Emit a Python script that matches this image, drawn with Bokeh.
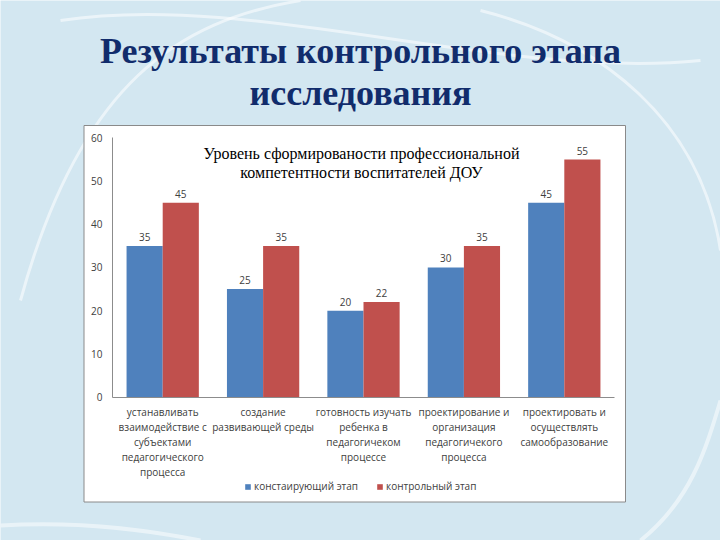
from bokeh.plotting import figure
from bokeh.models import Range1d, LinearAxis, FixedTicker, Legend, LegendItem
from bokeh.embed import file_html
from bokeh.resources import INLINE
from bokeh.core.properties import value

# ---------------- data ----------------
slide_title = ["Результаты контрольного этапа", "исследования"]
chart_title = ["Уровень сформированости профессиональной",
               "компетентности воспитателей ДОУ"]
categories = [
    "устанавливать\nвзаимодействие с\nсубъектами\nпедагогического\nпроцесса",
    "создание\nразвивающей среды",
    "готовность изучать\nребенка в\nпедагогичеком\nпроцессе",
    "проектирование и\nорганизация\nпедагогичекого\nпроцесса",
    "проектировать и\nосуществлять\nсамообразование",
]
series_names = ["констаирующий этап", "контрольный этап"]
stage_ascertaining = [35, 25, 20, 30, 45]
stage_control = [45, 35, 22, 35, 55]
y_ticks = [0, 10, 20, 30, 40, 50, 60]

# ---------------- layout (page pixels) ----------------
W, H, OFF = 720, 540, 0
X0, CAT_W = 112.0, 100.4        # page x of category axis start, px per category
Y0, PPU = 396.5, 4.317          # page y of value 0, px per unit

def px(xp):
    return (xp - X0) / CAT_W

def py(yp):
    return (Y0 - yp) / PPU

BLUE, RED = "#4F81BD", "#C0504D"
GRAY_TXT = "#404040"
FONT = value("Open Sans")

p = figure(width=W, height=H, output_backend="svg", toolbar_location=None,
           x_range=Range1d(px(OFF), px(OFF + W)),
           y_range=Range1d(py(OFF + H), py(OFF)),
           x_axis_type=None, y_axis_type=None, min_border=0,
           background_fill_color="#d3e7f1", border_fill_color="#d3e7f1",
           outline_line_color=None)

# faint swirls of the slide background
p.bezier(x0=[px(20), px(60), px(480)], y0=[py(300), py(20), py(10)],
         x1=[px(300), px(700), px(720)], y1=[py(0), py(60), py(250)],
         cx0=[px(80), px(250), px(600)], cy0=[py(80), py(-10), py(40)],
         cx1=[px(180), px(500), px(700)], cy1=[py(20), py(80), py(120)],
         line_color="white", line_alpha=0.55, line_width=3)
p.bezier(x0=[px(0), px(640)], y0=[py(525), py(540)],
         x1=[px(200), px(720)], y1=[py(540), py(400)],
         cx0=[px(80), px(690)], cy0=[py(520), py(500)],
         cx1=[px(150), px(705)], cy1=[py(530), py(450)],
         line_color="white", line_alpha=0.5, line_width=4)

# white chart panel
p.quad(left=[px(83.5)], right=[px(625)], top=[py(125)], bottom=[py(501.5)],
       fill_color="white", line_color="#8a8a8a", line_width=1)

# slide title
p.text(x=[px(360), px(360)], y=[py(50), py(92)], text=slide_title,
       text_font=value("Liberation Serif"), text_font_style="bold",
       text_font_size="36px", text_color="#112c6c",
       text_align="center", text_baseline="alphabetic")

# chart title
p.text(x=[px(361), px(361)], y=[py(153), py(172)], text=chart_title,
       text_font=value("Liberation Serif"), text_font_size="16px",
       text_color="black", text_align="center", text_baseline="middle")

# bars
n = len(categories)
bw = 0.36
xb = [i + 0.5 - bw / 2 for i in range(n)]
xr = [i + 0.5 + bw / 2 for i in range(n)]
rb = p.vbar(x=xb, top=stage_ascertaining, width=bw, bottom=0,
            fill_color=BLUE, line_color=None)
rr = p.vbar(x=xr, top=stage_control, width=bw, bottom=0,
            fill_color=RED, line_color=None)

# value labels
p.text(x=xb + xr, y=stage_ascertaining + stage_control,
       text=[str(v) for v in stage_ascertaining + stage_control],
       text_font=FONT, text_font_size="10px", text_color=GRAY_TXT,
       text_align="center", text_baseline="bottom", y_offset=-5)

# value axis
yaxis = LinearAxis(fixed_location=0, bounds=(0, 60),
                   ticker=FixedTicker(ticks=y_ticks))
yaxis.axis_line_color = "#8c8c8c"
yaxis.major_tick_out = 0
yaxis.major_tick_in = 0
yaxis.minor_tick_out = 0
yaxis.minor_tick_in = 0
yaxis.major_label_standoff = 10
yaxis.major_label_text_font = "Open Sans"
yaxis.major_label_text_font_size = "10px"
yaxis.major_label_text_color = GRAY_TXT
p.add_layout(yaxis, "left")

# category axis
xaxis = LinearAxis(fixed_location=0, bounds=(0, n),
                   ticker=FixedTicker(ticks=[i + 0.5 for i in range(n)]))
xaxis.major_label_overrides = {i + 0.5: c for i, c in enumerate(categories)}
xaxis.axis_line_color = "#8c8c8c"
xaxis.major_tick_out = 0
xaxis.major_tick_in = 0
xaxis.minor_tick_out = 0
xaxis.minor_tick_in = 0
xaxis.major_label_standoff = 8
xaxis.major_label_text_font = "Open Sans"
xaxis.major_label_text_font_size = "10px"
xaxis.major_label_text_line_height = 1.07
xaxis.major_label_text_color = GRAY_TXT
p.add_layout(xaxis, "below")

# legend
legend = Legend(items=[LegendItem(label=series_names[0], renderers=[rb]),
                       LegendItem(label=series_names[1], renderers=[rr])],
                orientation="horizontal", location=(244, 47),
                glyph_width=7, glyph_height=7, label_height=12,
                label_standoff=3, spacing=18, padding=0, margin=0,
                border_line_alpha=0, background_fill_alpha=0,
                label_text_font="Open Sans", label_text_font_size="10px",
                label_text_color=GRAY_TXT)
p.add_layout(legend, "center")

open("out.html", "w").write(file_html(p, INLINE))
